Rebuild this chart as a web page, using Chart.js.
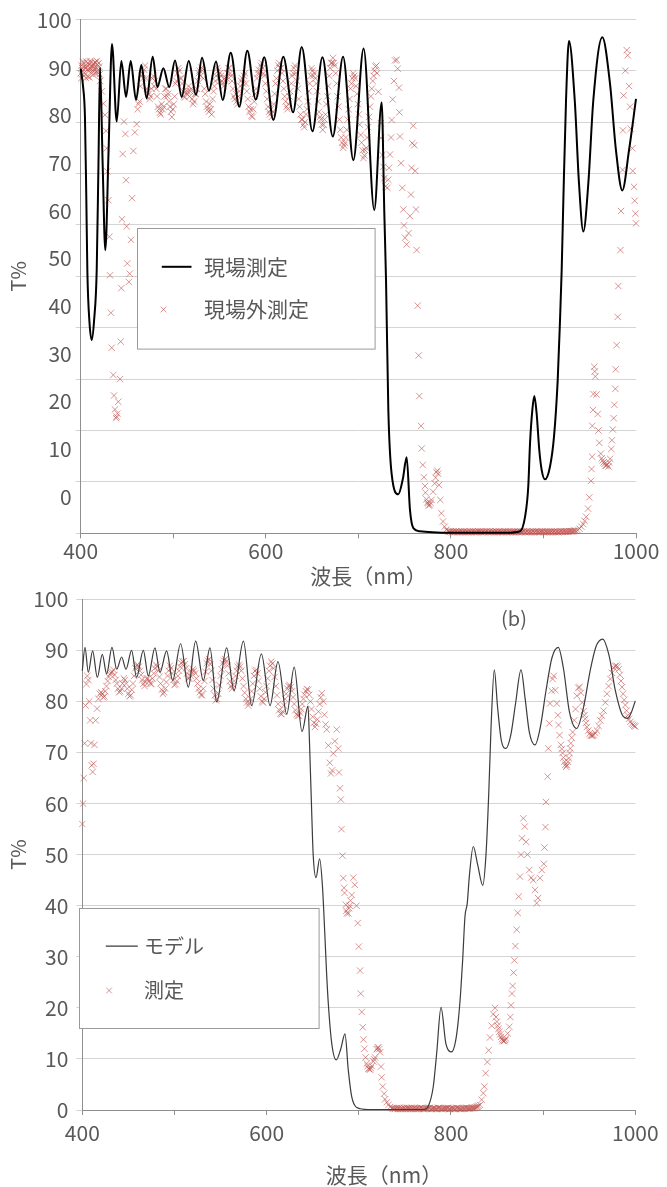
<!DOCTYPE html>
<html>
<head>
<meta charset="utf-8">
<script src="https://cdn.jsdelivr.net/npm/chart.js"></script>
<style>
  html, body { margin: 0; padding: 0; background: #fff; }
  #top { position: absolute; left: 0; top: 0; width: 667px; height: 588px; }
  #bottom { position: absolute; left: 0; top: 588px; width: 667px; height: 599px; }
</style>
</head>
<body>
<div id="top"><canvas id="chartA"></canvas></div>
<div id="bottom"><canvas id="chartB"></canvas></div>
<script>
// x axis ticks: every 100 nm, labels only every 200
const xMin = 400, xMax = 1000, xStep = 100;
// y tick labels (T%)
const yTicks = [0, 10, 20, 30, 40, 50, 60, 70, 80, 90, 100];

// (a) in-situ measured curve [nm, T%]
const insituLine = [
  [400,90.4],[402.5,87],[404.6,81],[406,66],[407.2,51],[409.5,41],[411.9,37.6],[414.5,41.5],[417.3,51.2],[419.2,72],
  [420.9,90.6],[423.7,72],[426.6,55.1],[430.2,75],[433.8,95.2],[438.9,80.1],[443.9,91.9],[449,84.9],[454,91.9],[459.8,84.3],
  [465.5,91.1],[471.3,84.6],[477.8,92.7],[482.8,86.8],[489.3,90.5],[495.7,86.8],[501.9,92],[509.1,84.9],[516.7,91.9],[524.6,85.3],
  [531.1,92.5],[538.6,86.1],[546.2,91.8],[553.4,84.3],[562.1,93.5],[571.4,83],[580,93.9],[589.1,84.4],[598.4,92.6],[608.1,80.4],
  [618.9,92.7],[629.5,81.9],[638.8,94.6],[650.4,78.2],[661.2,92.6],[672.4,77.2],[683.5,92.7],[694.6,72.6],[705.7,94.3],[717.2,62.9],
  [725.2,83.8],[728.1,62],[729.9,49.3],[732.4,24],[736,11.5],[743.2,7.6],[748,10.5],[752.2,14.8],[755.8,4.5],[759.4,1],
  [766.5,0.4],[780,0.2],[800,0.1],[860,0.1],[874.7,0.4],[880.1,3.2],[883.6,9.1],[885.5,17.5],[888,24],[890.1,26.7],
  [892.6,23.4],[895.5,16.2],[898.1,12.3],[901.7,10.5],[907.1,13],[911.4,18.8],[915.4,29.8],[917.9,41.5],[919.7,51.2],[921.5,64.8],
  [924.4,84.3],[927.6,95.8],[933.8,84.3],[938.4,68.1],[943.1,58.7],[948.5,68.1],[953.9,84.3],[963.6,96.5],[971.9,87.5],[978.3,74.6],
  [985.2,66.7],[992.5,74.6],[1000,84.5]
];

// (a) ex-situ measured points [nm, T%]
const exsituPts = [
  [400,89.5],[401,91],[402,90],[403,91.5],[404,89],[405,90.5],[406,91.8],[407,90.2],[408,88.8],[409,91.2],
  [410,90.5],[411,91.6],[412,89.8],[413,90.8],[414,91.4],[415,90],[416,91.5],[417,90.6],[418,91.2],[419,89.5],
  [420,90.8],[421,88],[422.7,86],[424.5,83.6],[426.3,81.4],[427.4,78.3],[428.1,74.9],[428.8,70.4],[429.9,64.8],[431,57.7],
  [431.7,50.2],[432.7,42.9],[433.5,36.1],[435.2,30.8],[436,26.8],[437,24.1],[438.2,22.4],[438.7,22.7],[439.6,23.3],[440.6,25.6],
  [442.5,30],[443.2,37.3],[443.9,47.7],[444.6,61.1],[445.4,73.8],[446.8,80.1],[448.3,77.7],[449,68.7],[449.7,59.7],[450.3,52.5],
  [452,48.9],[453,50.5],[454.4,57.1],[455.5,65.2],[456.9,74.4],[458.5,78],[460.5,79.6],[462.5,83.5],[464.5,87],[466.5,89.5],
  [468.5,90.2],[470.5,88.5],[472.5,86],[474.5,84.5],[476.5,86.5],[478.5,89],[480.5,88],[482.5,85],[484.5,82.5],[486.5,81.5],
  [488.5,82.5],[490.5,85],[492.5,86.5],[494.5,85.5],[496.5,83],[498.5,81],[500.5,83.5],[502.5,87.5],[504.5,89.5],[506.5,90],
  [508.5,88.5],[510.5,86],[512.5,84.8],[514.5,85.5],[516.5,87],[518.5,86],[520.5,84.5],[522.5,84],[524.5,85.5],[526.5,88],
  [528.5,90],[530.5,90.6],[532.5,88.5],[534.5,85.5],[536.5,83],[538.5,82],[540.5,82.5],[542.5,84.5],[544.5,87],[546.5,89],
  [548.5,90],[550.5,89.5],[552.5,88],[554.5,87],[556.5,88],[558.5,89.5],[560.5,90.5],[562.5,89],[564.5,86.5],[566.5,84.5],
  [568.5,84],[570.5,85],[572.5,87],[574.5,88.5],[576.5,89],[578.5,87.5],[580.5,84.5],[582.5,82],[584.5,81.2],[586.5,82.5],
  [588.5,85.5],[590.5,88.5],[592.5,90.2],[594.5,91],[596.5,90.5],[598.5,89],[600.5,86],[602.5,83],[604.5,81.5],[606.5,81],
  [608.5,83.5],[610.5,87.5],[612.5,90],[614.5,91.5],[616.5,90.5],[618.5,88],[620.5,85],[622.5,83],[624.5,83.5],[626.5,86],
  [628.5,89],[630.5,90.5],[632.5,89.5],[634.5,86.5],[636.5,83],[638.5,80.5],[640.5,79.5],[642.5,80],[644.5,82.5],[646.5,86],
  [648.5,89],[650.5,90],[652.5,89.5],[654.5,87.5],[656.5,84],[658.5,81],[660.5,79.5],[662.5,79.5],[664.5,81.5],[666.5,85],
  [668.5,89],[670.5,91.5],[672.5,92.5],[674.5,91],[676.5,87.5],[678.5,83],[680.5,78.5],[682.5,76],[684.5,75.5],[686.5,77],
  [688.5,80.5],[690.5,84.5],[692.5,87.5],[694.5,89.5],[696.5,88.5],[698.5,85.5],[700.5,81.5],[702.5,77.5],[704.5,74.5],[706.5,73.5],
  [708.5,75],[710.5,79],[712.5,83],[714.5,86.5],[716.5,89],[718.5,90.8],[720.2,89.5],[721.6,85.9],[724.2,79.8],[724.6,76.9],
  [726,73.6],[727,71.3],[728.1,69.1],[729.5,67.5],[731.3,67.2],[732.3,68.8],[733.1,71.1],[734.2,73.7],[735.3,77],[736,80.4],
  [737.1,84.4],[738.5,88],[739.6,92],[741.4,92.1],[742.5,90.4],[743.9,86.7],[744.3,81.9],[745,77.2],[746.1,72],[747.5,67.2],
  [748.6,63],[749.3,59.9],[750.4,57.5],[752.2,56.2],[754.3,58.4],[755.8,61.7],[756.8,65.9],[757.5,71.1],[758.3,75.9],[759.3,79.3],
  [760.5,75.5],[761.5,70.5],[762.3,63],[763,55.1],[764.1,44.3],[765.2,34.6],[765.9,26.7],[767.7,20.9],[768.5,16.5],[769.6,13.3],
  [770.9,10.9],[772,9.2],[772.5,7.9],[773.5,6.6],[775.3,5.8],[777.1,5.5],[779,6.5],[780.7,8.1],[782.5,9.7],[784.3,11.9],
  [786.1,11.6],[787.2,9.4],[788.6,6.5],[789.7,3.9],[791.5,2.3],[793.3,1.3],[795,0.7],[797,0.4],
  [799,0.3],[801,0.2],[803,0.4],[805,0.3],[807,0.2],[809,0.3],[811,0.4],[813,0.2],[815,0.3],[817,0.3],
  [819,0.2],[821,0.4],[823,0.3],[825,0.2],[827,0.3],[829,0.4],[831,0.3],[833,0.2],[835,0.3],[837,0.3],
  [839,0.4],[841,0.2],[843,0.3],[845,0.3],[847,0.2],[849,0.4],[851,0.3],[853,0.2],[855,0.3],[857,0.3],
  [859,0.4],[861,0.2],[863,0.3],[865,0.3],[867,0.2],[869,0.4],[871,0.3],[873,0.2],[875,0.3],[877,0.3],
  [879,0.4],[881,0.2],[883,0.3],[885,0.3],[887,0.2],[889,0.4],[891,0.3],[893,0.2],[895,0.3],[897,0.3],
  [899,0.4],[901,0.2],[903,0.3],[905,0.3],[907,0.2],[909,0.4],[911,0.3],[913,0.2],[915,0.3],[917,0.3],
  [919,0.4],[921,0.3],[923,0.3],[925,0.4],[927,0.3],[929,0.4],[931,0.4],[933,0.5],[935,0.5],[937,0.6],
  [939,0.9],[941,1.3],[943,1.8],[944.5,2.4],[946.2,3.2],[948.2,4.8],[949.6,7],[951.4,10.2],[952.6,14.9],[952.8,20.9],
  [954,27.1],[954.9,32.4],[956,30.5],[957.3,27],[958.6,23.2],[959.5,20],[960.4,17.6],[962,15.5],[964,14.2],[966,13.5],
  [968,13.2],[970.3,13],[972,14.5],[973.3,16.4],[974,18.1],[974.9,20.2],[975.9,22.4],[976.6,25],[977.7,28.1],[978.1,31.9],
  [979.1,36.6],[980.2,42.1],[980.9,48.1],[983.2,55.1],[983.8,62.7],[985.5,70.7],[985.9,78.4],[986.6,85.2],[988.5,90],[990,94],
  [991,93],[992.5,87],[993.6,83],[994.3,78.7],[996.1,74.9],[996.5,70.5],[997.9,67.4],[998.6,64.7],[999.3,62.2],[1000,60.3]
];
// (a) further ex-situ readings in the dense parts of the cloud
const exsituMore = [
  [400.5,88.5],[401.5,90.5],[402.5,91.8],[403.5,89.5],[404.5,90.8],[405.5,88.6],[406.5,90.7],[407.5,91.5],[408.5,90],[409.5,88.7],
  [410.5,91.9],[411.5,90.3],[412.5,91],[413.5,89.2],[414.5,90.4],[415.5,91.7],[416.5,89.4],[417.5,91.9],[418.5,90.1],[419.5,91.5],
  [420.5,89.3],[461.5,82.5],[463.5,84],[465.5,89],[467.5,88.5],[469.5,91],[471.5,86.5],[473.5,85.5],[475.5,85],[477.5,88.5],
  [479.5,87],[481.5,86.5],[483.5,83],[485.5,81.8],[487.5,83.5],[489.5,83],[491.5,86.5],[493.5,85],[495.5,84],[497.5,82],
  [499.5,82.5],[501.5,85],[503.5,88],[505.5,90.5],[507.5,88.5],[509.5,87.5],[511.5,85],[513.5,86],[515.5,86],[517.5,85],
  [519.5,86.5],[521.5,83.5],[523.5,85.5],[525.5,86.5],[527.5,89.5],[529.5,89],[531.5,90],[533.5,86.5],[535.5,84],[537.5,82.5],
  [539.5,83.5],[541.5,81.5],[543.5,86],[545.5,88],[547.5,90.5],[549.5,88.5],[551.5,89],[553.5,87.5],[555.5,88.5],[557.5,88.5],
  [559.5,90.5],[561.5,89.5],[563.5,88],[565.5,85],[567.5,85.5],[569.5,83.5],[571.5,86],[573.5,88],[575.5,87.5],[577.5,89.5],
  [579.5,86],[581.5,83],[583.5,82.5],[585.5,81],[587.5,84],[589.5,86.5],[591.5,89.5],[593.5,89.5],[595.5,91.5],[597.5,89.5],
  [599.5,87.5],[601.5,84.5],[603.5,82],[605.5,82.5],[607.5,82],[609.5,85.5],[611.5,88.5],[613.5,91],[615.5,90.5],[617.5,89.5],
  [619.5,86.5],[621.5,84],[623.5,82.5],[625.5,85],[627.5,87.5],[629.5,89.5],[631.5,91],[633.5,88],[635.5,84.5],[637.5,81.5],
  [639.5,80.5],[641.5,79],[643.5,81.5],[645.5,84],[647.5,87.5],[649.5,90.5],[651.5,89],[653.5,88.5],[655.5,86],[657.5,82],
  [659.5,80.5],[661.5,78.5],[663.5,80.5],[665.5,83.5],[667.5,87],[669.5,90.5],[671.5,91.5],[673.5,91.5],[675.5,89.5],[677.5,85],
  [679.5,80.5],[681.5,77],[683.5,75],[685.5,76],[687.5,78.5],[689.5,82.5],[691.5,86.5],[693.5,88.5],[695.5,89],[697.5,87],
  [699.5,83.5],[701.5,79.5],[703.5,76],[705.5,73],[707.5,74.5],[709.5,77],[711.5,81],[713.5,85],[715.5,88],[717.5,90],
  [719.5,91],[774.5,6],[776,5.4],[778,5.9],[783.5,10.8],[785.3,12.2],
  [798,0.3],[800,0.4],[802,0.3],[804,0.2],[806,0.4],[808,0.3],[810,0.2],[812,0.3],[814,0.4],[816,0.2],
  [818,0.3],[820,0.3],[822,0.2],[824,0.4],[826,0.3],[828,0.2],[830,0.3],[832,0.4],[834,0.3],[836,0.2],
  [838,0.3],[840,0.3],[842,0.4],[844,0.2],[846,0.3],[848,0.3],[850,0.2],[852,0.4],[854,0.3],[856,0.2],
  [858,0.3],[860,0.3],[862,0.4],[864,0.2],[866,0.3],[868,0.3],[870,0.2],[872,0.4],[874,0.3],[876,0.2],
  [878,0.3],[880,0.3],[882,0.4],[884,0.2],[886,0.3],[888,0.3],[890,0.2],[892,0.4],[894,0.3],[896,0.2],
  [898,0.3],[900,0.3],[902,0.4],[904,0.2],[906,0.3],[908,0.3],[910,0.2],[912,0.4],[914,0.3],[916,0.2],
  [918,0.3],[920,0.3],[922,0.4],[924,0.3],[926,0.3],[928,0.4],[930,0.4],[932,0.4],[934,0.5],
  [952,12.5],[953.5,24],[955.5,31.5],[963,14.6],[965,13.8],[967,13.1],[969,13.4],[971,13.8]
];

// (b) model curve [nm, T%]
const modelLine = [
  [400,86],[402.9,90.6],[406.5,85.7],[411.2,89.9],[416.3,84.7],[421.7,89.2],[426.4,85.4],[432.2,90.6],[437.3,86.3],[442.7,88.7],
  [447.4,86.3],[453.5,90],[458.9,84.7],[466.2,90],[471.6,85],[478.8,90.5],[484.3,85.7],[491.5,89.9],[498,84.1],[506.7,91.3],
  [515,82.8],[523,91.8],[531.3,84.1],[538.5,90.5],[545.8,79.9],[556.6,90.5],[564.6,82.1],[574.8,91.8],[583.8,79.2],[594.3,89.3],
  [603.7,79.2],[612.3,87.8],[621.8,77.5],[629.9,86.7],[638.4,74.1],[644.9,79.1],[646.5,72],[648.9,58.3],[650.5,50],[653.6,45.5],
  [657.5,49.2],[660.5,44],[663,35],[665,27],[666.9,20.9],[670.6,13.1],[675.5,9.8],[680.5,12],[685,14.9],[688.6,7.8],
  [692.3,2.6],[697.7,0.5],[710,0.1],[770,0.1],[775.5,0.8],[780.8,4.6],[784.5,11.1],[789.2,20.1],[794.5,13],[800.8,11.4],
  [805,13.5],[808,17.6],[810.5,23],[812.7,29.4],[815.2,37.9],[817.7,40.5],[819.9,45.7],[824.2,51.6],[829,48],[834.5,44],
  [838,50],[841,62],[843.5,75],[847,86.2],[850.5,79],[854.5,72.5],[859.7,70.8],[865,73.5],[870,79.5],[876,86.2],
  [880.5,80.5],[885,74],[891.2,71.5],[897,75],[903,82],[909.5,88.5],[916.4,90.6],[922,86.5],[928.5,78],[936.3,74.7],
  [944,79],[951,86],[957.5,90.8],[964.6,92.2],[971.5,89],[978.5,82],[985.5,77.5],[991.7,76.7],[996,78],[1000,80.1]
];

// (b) measured points [nm, T%]
const measPts = [
  [400,56],[400.8,60],[401.6,65],[402.5,71.8],[403.5,79.2],[404.5,83.4],[405.5,85],[406.5,84.2],[407.5,80],[408.5,76.3],
  [409.3,71.8],[410.2,67.5],[411.2,66.2],[412.2,67.8],[413.2,71.5],[414.5,76.3],[416,78.6],[417.5,80.5],[419,81.5],[420.5,81.8],
  [422.8,80.8],[425,82],[427.5,84],[430,85.3],[432.5,85.8],[435,85.2],[437.5,83.5],[440,81.8],[442.5,82.5],[445,84.5],
  [447.5,83.5],[450,81.5],[452.5,81.2],[455,83.5],[457.5,86.5],[460,87.2],[462.5,86],[465,84.2],[467.5,83],[470,84.5],
  [472.5,84],[475,83.4],[477.5,85.5],[480,87.2],[482.5,86],[485,83.5],[487.5,81.5],[490,82.5],[492.5,85],[495,87],
  [497.5,85.5],[500,83.2],[502.5,84],[505,86],[507.5,87.5],[510,87.9],[512.5,86.5],[515,84.5],[517.5,85],[520,86.3],
  [522.5,85.5],[525,83.5],[527.5,81.8],[530,81.2],[532.5,84],[535,87.5],[537.5,88.3],[540,86],[542.5,82.5],[545,80.2],
  [547.5,81.5],[550,85],[552.5,87.5],[555,88.3],[557.5,87],[560,84],[562.5,82.5],[565,84],[567.5,86],[570,87.2],
  [572.5,86],[575,83],[577.5,80.5],[580,79.2],[582.5,80.5],[585,83.5],[587.5,86],[590,85.5],[592.5,82.5],[595,80],
  [597.5,80.5],[600,83],[602.5,86],[605,87.8],[607.5,86.5],[610,83],[612.5,79.5],[615,77.6],[617.5,78],[620,80.5],
  [622.5,82.5],[625,83.2],[627.5,82],[630,79.5],[632.5,77.5],[635,77.2],[637.5,78.5],[640,80.5],[642.5,82],[645,82.3],
  [647.5,80],[650,77],[652.5,75],[655,76.5],[657.5,79.5],[659.8,81.6],[661.5,80],[662.7,77.4],[664,75.5],[665.2,74.5],
  [667,71.4],[668.5,68],[669.8,65.9],[671,66.5],[672.3,69.8],[674,72.2],[676,74.5],[677.7,70.8],[678.5,66.1],[679.6,63],
  [680.5,60.8],[681.2,55],[682.3,49.8],[683.2,45.4],[684.5,42.5],[685.9,40.2],[687,38.5],[688.6,38.5],[690,40],[692.3,42.1],
  [694,45.5],[695.6,44.1],[697.5,40],[698.8,36.6],[700,32],[701.4,27.3],[702.1,22.8],[703.2,19.2],[704.3,16.2],[705,13.8],
  [706.1,12],[707.4,10.3],[708.6,9.1],[710.4,8.1],[712.2,7.9],[714,8.6],[715.8,9.5],[717.6,10.3],[719.4,11.9],[721.2,12.3],
  [723,11.3],[724.1,8.5],[724.8,6.4],[726,4.6],[727.5,3.2],[728.5,2.1],[730.4,1.5],[732.2,1],[734,0.6],
  [736,0.4],[738,0.3],[740,0.3],[742,0.2],[744,0.4],[746,0.3],[748,0.2],[750,0.3],[752,0.4],[754,0.3],
  [756,0.2],[758,0.3],[760,0.4],[762,0.2],[764,0.3],[766,0.3],[768,0.4],[770,0.2],[772,0.3],[774,0.3],
  [776,0.4],[778,0.2],[780,0.3],[782,0.3],[784,0.2],[786,0.4],[788,0.3],[790,0.2],[792,0.3],[794,0.3],
  [796,0.4],[798,0.2],[800,0.3],[802,0.3],[804,0.2],[806,0.4],[808,0.3],[810,0.2],[812,0.3],[814,0.3],
  [816,0.4],[818,0.3],[820,0.3],[822,0.4],[824,0.4],[826,0.5],[828,0.6],[830,0.8],
  [831.5,1],[833.3,2],[835.1,3.3],[836.2,4.6],[837.6,7.2],[839.5,9.4],[840.9,11.7],[842.3,14.2],[844.2,16.5],[846,18.8],
  [847.8,20],[848.9,18.2],[850.7,16.5],[852.5,15.3],[854.3,14.3],[856.1,13.6],[857.9,13.5],[859.7,14],[861.5,15],[863.3,16.3],
  [864.4,18.2],[865.1,20.5],[866.2,22.8],[866.9,24.3],[868,26.9],[868.8,29.3],[869.9,32.1],[871.3,35.3],[872.4,38.6],[873.5,41.8],
  [874.9,45.7],[876,50],[877,53.2],[878.5,57.1],[880,55.5],[881.5,52.5],[883,50],[885,47],[887,45.5],[889.3,45],
  [891.2,43.1],[893,40.5],[894.5,41.5],[896.6,45.4],[898.5,47],[900.7,48.2],[901.4,51.4],[902.5,55.4],[903.1,60.3],[904.9,65.3],
  [905.6,70.8],[906.7,75.7],[907.4,79.6],[909.2,82.1],[910.3,84.4],[911.5,85],[913.2,82.2],[914.9,79.6],[916,77.3],[916.7,75.4],
  [917.8,73.4],[919.3,71.5],[921.1,69.9],[923.2,68.2],[925,67.2],[926.9,68.2],[928.7,69.9],[930.1,71.8],[932,74],[933.8,76.3],
  [935.2,78.5],[936.6,81.1],[938.1,82.7],[939.5,82.8],[941,81.7],[942.4,79.8],[943.9,78.1],[945.7,76.6],[947.5,75],[950.4,73.7],
  [952.5,73.3],[954.8,73.4],[958.4,74.3],[962,76.3],[965.6,78.2],[969.3,81.5],[972.9,84.4],[976.5,86.6],[979.4,87],[982,86.3],
  [984.5,84],[986.7,81.5],[989.2,79.3],[991.8,77.3],[994.7,76],[997.6,75.4],[1000,75.1]
];
// (b) further measured readings in the dense parts of the cloud
const measMore = [
  [421.6,81.5],[423.9,81],[426.2,83],[428.7,84.8],[431.2,85.6],[433.7,86.2],[436.2,84.2],[438.7,82.5],[441.2,82],[443.7,83.5],
  [446.2,84.2],[448.7,82.5],[451.2,81],[453.7,82.3],[456.2,85],[458.7,87],[461.2,86.8],[463.7,85.2],[466.2,83.5],[468.7,83.8],
  [471.2,84.5],[473.7,83.5],[476.2,84.5],[478.7,86.5],[481.2,86.8],[483.7,84.8],[486.2,82.3],[488.7,81.8],[491.2,83.8],[493.7,86],
  [496.2,86.5],[498.7,84.2],[501.2,83.4],[503.7,85],[506.2,86.8],[508.7,87.8],[511.2,87.3],[513.7,85.5],[516.2,84.6],[518.7,85.8],
  [521.2,86],[523.7,84.5],[526.2,82.5],[528.7,81.3],[531.2,82.5],[533.7,85.8],[536.2,88],[538.7,87.3],[541.2,84.2],[543.7,81.2],
  [546.2,80.5],[548.7,83.2],[551.2,86.3],[553.7,88],[556.2,87.8],[558.7,85.5],[561.2,83],[563.7,83.2],[566.2,85],[568.7,86.8],
  [571.2,86.8],[573.7,84.5],[576.2,81.7],[578.7,79.8],[581.2,79.7],[583.7,82],[586.2,85],[588.7,86.2],[591.2,84],[593.7,81],
  [596.2,79.8],[598.7,81.8],[601.2,84.5],[603.7,87],[606.2,87.4],[608.7,84.8],[611.2,81.2],[613.7,78.3],[616.2,77.5],[618.7,79.2],
  [621.2,81.5],[623.7,83],[626.2,82.8],[628.7,80.8],[631.2,78.3],[633.7,77.2],[636.2,77.8],[638.7,79.5],[641.2,81.3],[643.7,82.4],
  [646.2,81.3],[648.7,78.5],[651.2,75.8],[653.7,75.6],[656.2,78],[658.7,80.8],
  [684,43.5],[686.5,39],[689.3,39.5],[691,41],[709.5,8.6],[711.3,8],[713.1,8.2],[716.7,9.9],[720.3,12.1],[722.1,11.9],
  [737,0.3],[739,0.2],[741,0.4],[743,0.3],[745,0.2],[747,0.3],[749,0.4],[751,0.2],[753,0.3],[755,0.3],
  [757,0.4],[759,0.2],[761,0.3],[763,0.3],[765,0.2],[767,0.4],[769,0.3],[771,0.2],[773,0.3],[775,0.3],
  [777,0.4],[779,0.2],[781,0.3],[783,0.3],[785,0.2],[787,0.4],[789,0.3],[791,0.2],[793,0.3],[795,0.3],
  [797,0.4],[799,0.2],[801,0.3],[803,0.3],[805,0.2],[807,0.4],[809,0.3],[811,0.2],[813,0.3],[815,0.3],
  [817,0.4],[819,0.3],[821,0.3],[823,0.4],[825,0.4],[827,0.5],[829,0.7],
  [849.8,17.3],[851.6,15.9],[853.4,14.8],[855.2,13.9],[857,13.5],[858.8,13.7],
  [920.2,70.7],[922.1,69],[924.1,67.6],[925.9,67.5],[927.8,68.9],[929.4,70.8],[931,72.9],
  [944.8,77.3],[946.6,75.8],[949,74.3],[951.4,73.4],[953.6,73.3],[956.6,73.8],
  [960.2,75.2],[963.8,77.2],[967.5,79.8],[971,83],[974.7,85.6],[977.9,86.9],[980.7,86.8],[983.2,85.2],[985.6,82.8],[988,80.3],
  [990.5,78.2],[993.2,76.6],[996.1,75.6],[998.8,75.2]
];

const FONT = "'Noto Sans CJK JP', 'Noto Sans', sans-serif";
const TEXT = '#595959';
const GRID = '#d4d4d4';
const AXIS = '#8e8e8e';
const RED = 'rgba(192, 80, 77, 0.6)';

Chart.defaults.font.family = FONT;
Chart.defaults.color = TEXT;

const toXY = pts => pts.map(p => ({ x: p[0], y: p[1] }));

// boxed legend inside the plot + free text (axis title, panel tag)
const overlay = {
  id: 'overlay',
  afterDatasetsDraw(chart, args, opts) {
    const { ctx, chartArea } = chart;
    const lg = opts.legend;
    const bx = Math.round(chartArea.left + lg.left) + 0.5;
    const by = Math.round(chartArea.top + lg.top) + 0.5;
    ctx.save();
    ctx.fillStyle = '#fff';
    ctx.fillRect(bx, by, lg.width, lg.height);
    ctx.strokeStyle = '#9a9a9a';
    ctx.lineWidth = 1;
    ctx.strokeRect(bx, by, lg.width, lg.height);
    ctx.font = lg.fontSize + 'px ' + FONT;
    ctx.textBaseline = 'middle';
    ctx.textAlign = 'left';
    chart.data.datasets.forEach((ds, i) => {
      const cy = by + lg.rows[i];
      ctx.strokeStyle = ds.borderColor;
      if (ds.showLine) {
        ctx.lineWidth = ds.borderWidth;
        ctx.beginPath();
        ctx.moveTo(bx + lg.sample[0], cy);
        ctx.lineTo(bx + lg.sample[1], cy);
        ctx.stroke();
      } else {
        ctx.lineWidth = 1;
        Chart.helpers.drawPoint(ctx, { pointStyle: 'crossRot', radius: 4, borderWidth: 1 }, bx + lg.marker, cy);
      }
      ctx.fillStyle = TEXT;
      ctx.fillText(ds.label, bx + lg.textX, cy);
    });
    (opts.notes || []).forEach(n => {
      ctx.font = n.size + 'px ' + FONT;
      ctx.fillStyle = TEXT;
      ctx.textAlign = 'center';
      ctx.textBaseline = 'middle';
      ctx.fillText(n.text, chartArea.left + n.dx, chartArea[n.from] + n.dy);
    });
    ctx.restore();
  }
};

const xScale = (height, pad) => ({
  type: 'linear', min: xMin, max: xMax,
  ticks: { stepSize: xStep, padding: pad, font: { size: 21, lineHeight: 1 },
           callback: v => (v % 200 === 0 ? v : '') },
  grid: { drawOnChartArea: false, tickLength: 5, color: AXIS },
  border: { color: AXIS },
  afterFit: s => { s.height = height; }
});

// fixed width, and keep label half-heights from pushing the plot area down
const fixWidth = w => s => { s.width = w; s.paddingTop = 0; s.paddingBottom = 0; };
const useTicks = s => { s.ticks = yTicks.map(v => ({ value: v })); };

// (a) in-situ vs ex-situ
new Chart(document.getElementById('chartA'), {
  type: 'scatter',
  data: {
    datasets: [
      { label: '現場測定', data: toXY(insituLine), showLine: true, borderColor: '#000', borderWidth: 2,
        pointRadius: 0, cubicInterpolationMode: 'monotone', clip: false },
      { label: '現場外測定', data: toXY(exsituPts.concat(exsituMore)), showLine: false, pointStyle: 'crossRot', pointRadius: 4.5,
        borderColor: RED, backgroundColor: RED, borderWidth: 1, clip: false }
    ]
  },
  options: {
    responsive: true, maintainAspectRatio: false, animation: false,
    layout: { padding: { top: 19.3, right: 31, bottom: 0, left: 0 } },
    plugins: {
      legend: { display: false }, tooltip: { enabled: false },
      overlay: {
        legend: { left: 56, top: 208.4, width: 237.6, height: 120.6, fontSize: 21,
                  rows: [38.3, 81], sample: [24.3, 54], marker: 26, textX: 66.6 },
        notes: [{ text: '波長（nm）', size: 21, dx: 287.8, from: 'bottom', dy: 43.2 }]
      }
    },
    scales: {
      x: xScale(54.7, 2),
      y: { type: 'linear', min: 0, max: 100, weight: 0,
           ticks: { display: false, stepSize: 10 },
           grid: { color: GRID, tickLength: 5 }, border: { color: AXIS },
           afterFit: fixWidth(5) },
      // tick labels of panel (a) sit on their own slightly compressed scale, as in the source figure
      yLabels: { type: 'linear', axis: 'y', position: 'left', min: -7.7, max: 100.15, bounds: 'data', weight: 1,
           ticks: { padding: 4, font: { size: 21, lineHeight: 1 } },
           afterBuildTicks: useTicks,
           grid: { display: false, drawTicks: false }, border: { display: false },
           title: { display: true, text: 'T%', font: { size: 20 }, padding: { top: 6, bottom: 0 } },
           afterFit: fixWidth(75.7) }
    }
  },
  plugins: [overlay]
});

// (b) model vs measurement
new Chart(document.getElementById('chartB'), {
  type: 'scatter',
  data: {
    datasets: [
      { label: 'モデル', data: toXY(modelLine), showLine: true, borderColor: '#3c3c3c', borderWidth: 1.2,
        pointRadius: 0, cubicInterpolationMode: 'monotone', clip: false },
      { label: '測定', data: toXY(measPts.concat(measMore)), showLine: false, pointStyle: 'crossRot', pointRadius: 4.5,
        borderColor: RED, backgroundColor: RED, borderWidth: 1, clip: false }
    ]
  },
  options: {
    responsive: true, maintainAspectRatio: false, animation: false,
    layout: { padding: { top: 11.3, right: 31.7, bottom: 0, left: 0 } },
    plugins: {
      legend: { display: false }, tooltip: { enabled: false },
      overlay: {
        legend: { left: -3.6, top: 309, width: 239.6, height: 120, fontSize: 20,
                  rows: [37.7, 82], sample: [26.3, 58.3], marker: 29.6, textX: 64.6 },
        notes: [
          { text: '(b)', size: 20, dx: 431.7, from: 'top', dy: 19 },
          { text: '波長（nm）', size: 21, dx: 301.7, from: 'bottom', dy: 65 }
        ]
      }
    },
    scales: {
      x: xScale(77, 7.8),
      y: { type: 'linear', min: 0, max: 100,
           ticks: { padding: 8, font: { size: 21, lineHeight: 1 } },
           afterBuildTicks: useTicks,
           grid: { color: GRID, tickLength: 6 }, border: { color: AXIS },
           title: { display: true, text: 'T%', font: { size: 20 }, padding: { top: 6, bottom: 0 } },
           afterFit: fixWidth(82.3) }
    }
  },
  plugins: [overlay]
});
</script>
</body>
</html>
